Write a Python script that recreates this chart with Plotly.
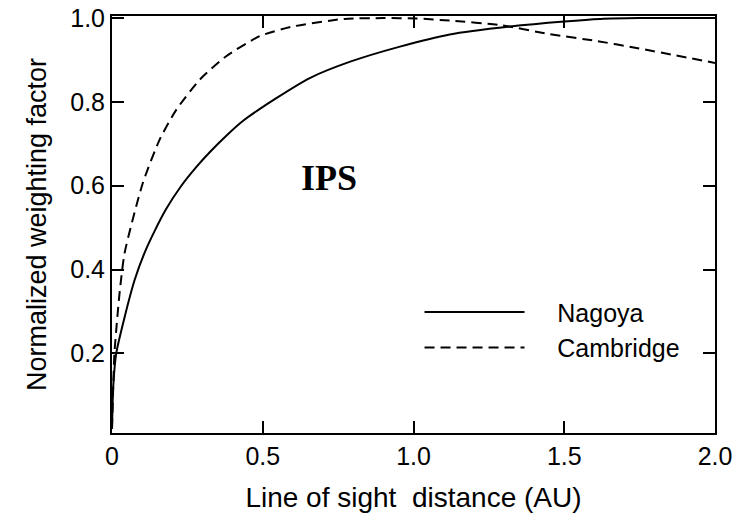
import plotly.graph_objects as go

# Data
nagoya_x = [0, 0.004, 0.014, 0.042, 0.075, 0.108, 0.14, 0.18, 0.23, 0.28, 0.324, 0.38,
            0.435, 0.545, 0.656, 0.79, 0.955, 1.12, 1.32, 1.5, 1.62, 1.75, 2.0]
nagoya_y = [0.02, 0.12, 0.2, 0.287, 0.375, 0.44, 0.49, 0.545, 0.6, 0.645, 0.68, 0.72,
            0.755, 0.809, 0.857, 0.896, 0.932, 0.961, 0.98, 0.992, 0.998, 1.0, 1.0]

cambridge_x = [0, 0.004, 0.008, 0.025, 0.042, 0.102, 0.158, 0.213, 0.291, 0.379,
               0.49, 0.6, 0.77, 0.9, 1.01, 1.12, 1.29, 1.45, 1.61, 1.73, 2.0]
cambridge_y = [0.02, 0.12, 0.2, 0.343, 0.44, 0.606, 0.71, 0.781, 0.853, 0.909,
               0.957, 0.98, 0.998, 1.0, 0.999, 0.994, 0.983, 0.962, 0.945, 0.93, 0.893]

x_tickvals = [0, 0.5, 1.0, 1.5, 2.0]
x_ticktext = ["0", "0.5", "1.0", "1.5", "2.0"]
y_tickvals = [0.2, 0.4, 0.6, 0.8, 1.0]
y_ticktext = ["0.2", "0.4", "0.6", "0.8", "1.0"]

FONT = "Liberation Sans, Arial, sans-serif"
GAP = "\u00a0" * 4

fig = go.Figure()
fig.add_trace(go.Scatter(x=nagoya_x, y=nagoya_y, mode="lines", name=GAP + "Nagoya",
                         line=dict(color="black", width=2, shape="spline", smoothing=0.6)))
fig.add_trace(go.Scatter(x=cambridge_x, y=cambridge_y, mode="lines", name=GAP + "Cambridge",
                         line=dict(color="black", width=2, dash="10px,6px",
                                   shape="spline", smoothing=0.6)))

fig.add_annotation(x=0.72, y=0.618, xref="x", yref="y", text="<b>IPS</b>",
                   showarrow=False,
                   font=dict(family="Liberation Serif, Times New Roman, serif",
                             size=36, color="black"))

axis_common = dict(showline=True, linecolor="black", linewidth=2, mirror="ticks",
                   ticks="inside", ticklen=12, tickwidth=2, tickcolor="black",
                   showgrid=False, zeroline=False, automargin=False,
                   tickfont=dict(family=FONT, size=25, color="black"))

fig.update_xaxes(range=[0, 2.0], tickvals=x_tickvals, ticktext=x_ticktext,
                 title=dict(text="Line of sight  distance (AU)",
                            font=dict(family=FONT, size=28, color="black"),
                            standoff=18),
                 **axis_common)
fig.update_yaxes(range=[0.01, 1.005], tickvals=y_tickvals, ticktext=y_ticktext,
                 title=dict(text="Normalized weighting factor",
                            font=dict(family=FONT, size=27, color="black"),
                            standoff=16),
                 **axis_common)

fig.update_layout(
    width=742, height=518,
    margin=dict(l=112, r=27, t=16, b=85),
    paper_bgcolor="white", plot_bgcolor="white",
    showlegend=True,
    legend=dict(x=0.51, y=0.345, xanchor="left", yanchor="top",
                bgcolor="rgba(0,0,0,0)", itemwidth=100,
                font=dict(family=FONT, size=25, color="black")),
)

fig.write_html("out.html")
